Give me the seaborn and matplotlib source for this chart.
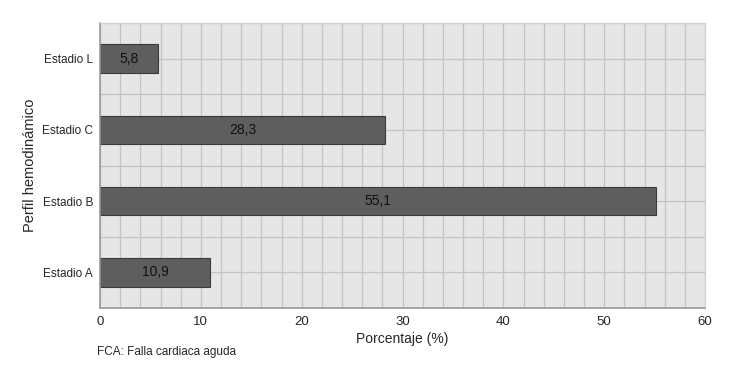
import pandas as pd
import seaborn as sns
import matplotlib.pyplot as plt
from matplotlib.ticker import MultipleLocator

# datos
estadios = ['Estadio L', 'Estadio C', 'Estadio B', 'Estadio A']
porcentajes = [5.8, 28.3, 55.1, 10.9]
etiquetas = ['5,8', '28,3', '55,1', '10,9']

df = pd.DataFrame({'estadio': estadios, 'pct': porcentajes})

sns.set_style('whitegrid')
plt.rcParams['font.family'] = ['Liberation Sans', 'DejaVu Sans']

fig, ax = plt.subplots(figsize=(7.37, 3.70), dpi=100)
fig.subplots_adjust(left=100/737, right=705/737, top=1-23/370, bottom=1-308/370)

sns.barplot(data=df, x='pct', y='estadio', orient='h', color='#5e5e5e',
            edgecolor='#3a3a3a', linewidth=0.8, width=0.4, saturation=1, ax=ax)

for i, (v, t) in enumerate(zip(porcentajes, etiquetas)):
    ax.text(v / 2, i, t, ha='center', va='center', fontsize=10, color='#111111')

ax.set_facecolor('#e6e6e6')
ax.set_xlim(0, 60)
ax.set_ylim(3.5, -0.5)
ax.xaxis.set_major_locator(MultipleLocator(10))
ax.xaxis.set_minor_locator(MultipleLocator(2))
ax.yaxis.set_minor_locator(MultipleLocator(0.5))
ax.grid(which='both', color='#c4c4c4', linewidth=0.9)
ax.set_axisbelow(True)

for s in ['left', 'bottom']:
    ax.spines[s].set_color('#9a9a9a')
    ax.spines[s].set_linewidth(1.2)
for s in ['top', 'right']:
    ax.spines[s].set_color('#d0d0d0')

ax.tick_params(axis='x', which='major', length=4, color='#9a9a9a', labelsize=9.5, pad=2)
ax.tick_params(axis='x', which='minor', length=0)
ax.tick_params(axis='y', which='both', length=0, labelsize=8.5, pad=5)

ax.set_xlabel('Porcentaje (%)', fontsize=10, labelpad=3)
ax.set_ylabel('Perfil hemodinámico', fontsize=10.5, labelpad=4)

fig.text(97/737, 1-352/370, 'FCA: Falla cardiaca aguda', fontsize=8.5, va='center')

fig.savefig('out.png', dpi=100)
